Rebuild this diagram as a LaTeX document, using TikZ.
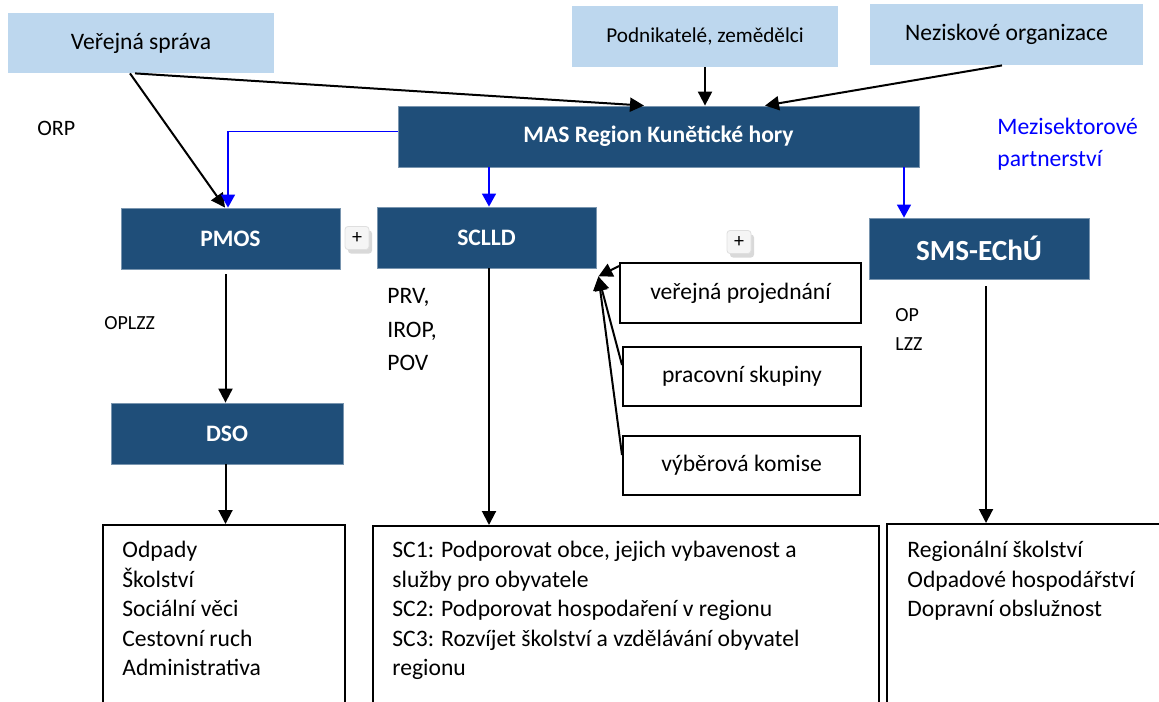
\documentclass[tikz,border=0pt]{standalone}
\usepackage{fontspec}
\setmainfont{Carlito}
\usepackage{tikz}
\usetikzlibrary{arrows.meta,shadows}
\definecolor{masblue}{RGB}{31,78,121}
\definecolor{paleblue}{RGB}{189,215,238}
\newcommand{\bodyfont}{\fontsize{11.8}{14.75}\selectfont}

\begin{document}
\begin{tikzpicture}[x=0.5pt,y=-0.5pt]
  % `darkbox' is used for the MAS and its strategies, `lightbox' for the sectors.
  % `sidebox' and `listbox' are the white frames, `plusicon' the little grey buttons.
  \tikzstyle{darkbox} = [fill=masblue,draw=masblue!60!white,line width=0.4pt,text=white,font=\bfseries\bodyfont,inner sep=0pt]
  \tikzstyle{lightbox} = [fill=paleblue,inner sep=0pt,font=\bodyfont]
  \tikzstyle{sidebox} = [draw=black,line width=1pt,fill=white,inner sep=0pt,font=\bodyfont]
  \tikzstyle{listbox} = [draw=black,line width=1pt,inner sep=0pt,anchor=north west]
  \tikzstyle{listtext} = [anchor=north west,align=left,inner sep=0pt,font=\bodyfont]
  \tikzstyle{plusicon} = [fill=gray!8,draw=gray!25,rounded corners=1.5pt,minimum width=12pt,minimum height=11.5pt,inner sep=0pt,font=\fontsize{10}{10}\selectfont,drop shadow={shadow xshift=1.5pt,shadow yshift=-2pt,fill=gray!50,opacity=0.6}]
  \tikzstyle{conn} = [line width=1pt,-{Triangle[length=7pt,width=7pt]}]
  \tikzstyle{blueconn} = [line width=0.75pt,blue,-{Triangle[length=6.5pt,width=7pt]}]
  %
  \useasboundingbox (0,0) rectangle (1159,701);
  \clip (0,0) rectangle (1159,701);
  % Sectors.
  \node[lightbox,minimum width=133pt,minimum height=30pt] (vs) at (141,43) {Veřejná správa};
  \node[lightbox,minimum width=133pt,minimum height=30.5pt,font=\fontsize{10.6}{12}\selectfont] (pod) at (705,36.5) {Podnikatelé, zemědělci};
  \node[lightbox,minimum width=136.5pt,minimum height=30.5pt] (nez) at (1006.5,34.5) {Neziskové organizace};
  % MAS and strategies.
  \node[darkbox,minimum width=260.5pt,minimum height=30.5pt] (mas) at (658.5,136.5) {MAS Region Kunětické hory};
  \node[darkbox,minimum width=109.5pt,minimum height=30.5pt] (pmos) at (230.5,238.5) {PMOS};
  \node[darkbox,minimum width=109.5pt,minimum height=30.5pt] (sclld) at (486.5,237.5) {SCLLD};
  \node[darkbox,minimum width=110pt,minimum height=30.5pt,font=\bfseries\fontsize{14.6}{16}\selectfont] (sms) at (979,248.5) {SMS-EChÚ};
  \node[darkbox,minimum width=116pt,minimum height=30.5pt] (dso) at (227,433.5) {DSO};
  % Side boxes of the SCLLD.
  \node[sidebox,minimum width=120.5pt,minimum height=30pt] (vp) at (740.5,293) {veřejná projednání};
  \node[sidebox,minimum width=119pt,minimum height=29.5pt] (ps) at (742,376.5) {pracovní skupiny};
  \node[sidebox,minimum width=118.5pt,minimum height=29.5pt] (vk) at (741.5,465.5) {výběrová komise};
  % Plus buttons.
  \node[plusicon] (plusa) at (357,238) {+};
  \node[plusicon] (plusb) at (739,242) {+};
  % Free labels.
  \node[anchor=west,inner sep=0pt,font=\fontsize{11}{13}\selectfont] (orp) at (37,128) {ORP};
  \node[anchor=west,inner sep=0pt,font=\fontsize{10}{12}\selectfont] (oplzz) at (104,323) {OPLZZ};
  \node[listtext,font=\fontsize{11.8}{16.75}\selectfont] (prv) at (387,288) {PRV,\\IROP,\\POV};
  \node[listtext,font=\fontsize{10}{14.5}\selectfont] (oplzzb) at (895,308) {OP\\LZZ};
  \node[listtext,text=blue,font=\fontsize{11.8}{16}\selectfont] (msp) at (997,118) {Mezisektorové\\partnerství};
  % Bottom boxes.
  \node[listbox,minimum width=121pt,minimum height=118pt] (odpbox) at (102,524) {};
  \node[listbox,minimum width=253pt,minimum height=118pt] (scbox) at (372,525) {};
  \node[listbox,minimum width=147pt,minimum height=118pt] (regbox) at (886,523) {};
  \node[listtext] (odptext) at (122,541) {Odpady\\Školství\\Sociální věci\\Cestovní ruch\\Administrativa};
  \node[listtext] (sctext) at (392,541) {SC1: Podporovat obce, jejich vybavenost a\\služby pro obyvatele\\SC2: Podporovat hospodaření v regionu\\SC3: Rozvíjet školství a vzdělávání obyvatel\\regionu};
  \node[listtext] (regtext) at (907,541) {Regionální školství\\Odpadové hospodářství\\Dopravní obslužnost};
  %
  \coordinate (sclldin) at ([xshift=1.25pt]sclld.north);
  \coordinate (smsin) at ([xshift=-37.5pt]sms.north);
  \coordinate (smsout) at ([xshift=3.5pt]sms.south);
  \coordinate (pmosout) at ([xshift=-2.5pt]pmos.south);
  \coordinate (tip) at ([xshift=1pt,yshift=-4pt]sclld.south east);
  % Sectors into the MAS.
  \draw[conn] ([xshift=-5.5pt]vs.south) -- ([xshift=-2.75pt]pmos.north);
  \draw[conn] ([xshift=-3pt]vs.south) -- ([xshift=-7.25pt]mas.north);
  \draw[conn] (pod.south) -- (pod.south |- mas.north);
  \draw[conn] ([xshift=-2.25pt]nez.south) -- ([xshift=53.25pt]mas.north);
  % MAS to the strategies.
  \draw[blueconn] ([yshift=2.5pt]mas.west) -| ([xshift=-1.25pt]pmos.north);
  \draw[blueconn] (sclldin |- mas.south) -- (sclldin);
  \draw[blueconn] (smsin |- mas.south) -- (smsin);
  % Strategies down to their topics.
  \draw[conn,shorten <=2.5pt] (pmosout) -- (pmosout |- dso.north);
  \draw[conn] (pmosout |- dso.south) -- (pmosout |- odpbox.north);
  \draw[conn] (sclldin |- sclld.south) -- (sclldin |- scbox.north);
  \draw[conn,shorten <=3.5pt] (smsout) -- (smsout |- regbox.north);
  % Side boxes into the SCLLD.
  \draw[conn] ([yshift=-2pt]vp.north west) -- (tip);
  \draw[conn] ([yshift=5.75pt]ps.west) -- (tip);
  \draw[conn] ([yshift=5.25pt]vk.west) -- (tip);
\end{tikzpicture}
\end{document}
